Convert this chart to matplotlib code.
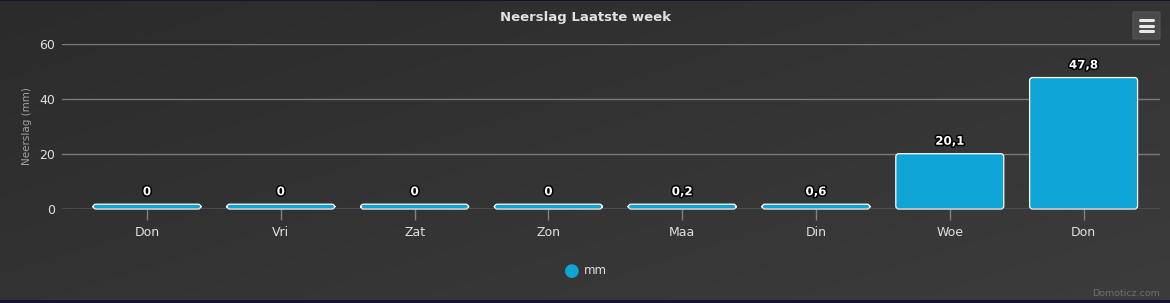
import numpy as np
import matplotlib
matplotlib.use("Agg")
import matplotlib.pyplot as plt
from matplotlib.patches import FancyBboxPatch
import matplotlib.patheffects as pe

categories = ["Don", "Vri", "Zat", "Zon", "Maa", "Din", "Woe", "Don"]
values = [0, 0, 0, 0, 0.2, 0.6, 20.1, 47.8]
yticks = [0, 20, 40, 60]
title = "Neerslag Laatste week"
ylabel = "Neerslag (mm)"
series_name = "mm"

W, H = 1170, 303
fig = plt.figure(figsize=(W / 100, H / 100), dpi=100)
fig.patch.set_facecolor("#141230")

# background gradient
bg = fig.add_axes([0, 3 / H, 1, 1 - 4 / H], zorder=-5)
gx, gy = np.meshgrid(np.linspace(0, 1, 300), np.linspace(0, 1, 100))
grad = 0.55 * gx + 0.45 * gy
bg.imshow(grad, cmap=matplotlib.colors.LinearSegmentedColormap.from_list(
    "g", ["#2b2b2b", "#3c3c3c"]), aspect="auto", extent=[0, 1, 0, 1], origin="upper")
bg.set_axis_off()

ax = fig.add_axes([62 / W, 94 / H, (1160 - 62) / W, (259 - 94) / H])
ax.set_facecolor("none")
x = np.arange(len(categories))
ax.set_xlim(-0.635, 7.571)
ax.set_ylim(0, 60)

bar_w = 0.807
min_len = 1.75
bar_color = "#0ea5d6"
px_x = (1160 - 62) / (7.571 + 0.635)
px_y = (259 - 94) / 60
r_px = 3.0
for xi, v in zip(x, values):
    h = max(v, min_len)
    p = FancyBboxPatch((xi - bar_w / 2, 0), bar_w, h,
                       boxstyle=f"round,pad=0,rounding_size={r_px / px_x}",
                       mutation_aspect=px_x / px_y,
                       facecolor=bar_color, edgecolor="white", linewidth=0.9,
                       zorder=3, clip_on=False)
    ax.add_patch(p)
    lab = f"{v:g}".replace(".", ",")
    ax.annotate(lab, (xi, h), xytext=(0, 6), textcoords="offset pixels",
                ha="center", va="bottom", color="white", fontsize=8.5,
                fontweight="bold", zorder=5,
                path_effects=[pe.withStroke(linewidth=2.2, foreground="black")])

# baseline
ax.axhline(0, color="#808080", linewidth=1.0, zorder=4)

ax.set_yticks(yticks)
ax.yaxis.grid(True, color="#7a7a7a", linewidth=1.0)
ax.set_axisbelow(True)
ax.tick_params(axis="y", length=0, pad=5, labelcolor="#e0e0e0", labelsize=9)
ax.set_xticks(x)
ax.set_xticklabels(categories)
ax.tick_params(axis="x", length=8, width=1, color="#808080", pad=4,
               labelcolor="#e0e0e0", labelsize=9)
for s in ax.spines.values():
    s.set_visible(False)
ax.set_ylabel(ylabel, color="#a0a0a0", fontsize=7.5, labelpad=5)

fig.text(585 / W, 1 - 18 / H, title, ha="center", va="center",
         color="#e0e0e0", fontsize=9.5, fontweight="bold")

# legend
fig.text(572 / W, 1 - 271 / H, "\u25CF", ha="center", va="center",
         color=bar_color, fontsize=13)
fig.text(584 / W, 1 - 271 / H, series_name, ha="left", va="center",
         color="#e0e0e0", fontsize=8.5)

# menu button
btn = FancyBboxPatch((1133 / W, 1 - 39 / H), 27 / W, 27 / H,
                     boxstyle="round,pad=0,rounding_size=0.002",
                     transform=fig.transFigure, facecolor="#4a4a4a",
                     edgecolor="#555555", linewidth=0.8)
fig.add_artist(btn)
for yy in (20, 25.5, 31):
    fig.add_artist(plt.Line2D([1140 / W, 1153 / W], [1 - yy / H, 1 - yy / H],
                              transform=fig.transFigure, color="#e8e8e8",
                              linewidth=2.2, solid_capstyle="round"))

fig.text(1160 / W, 1 - 293 / H, "Domoticz.com", ha="right", va="center",
         color="#707070", fontsize=6.8)

fig.savefig("out.png", dpi=100, facecolor=fig.get_facecolor())
